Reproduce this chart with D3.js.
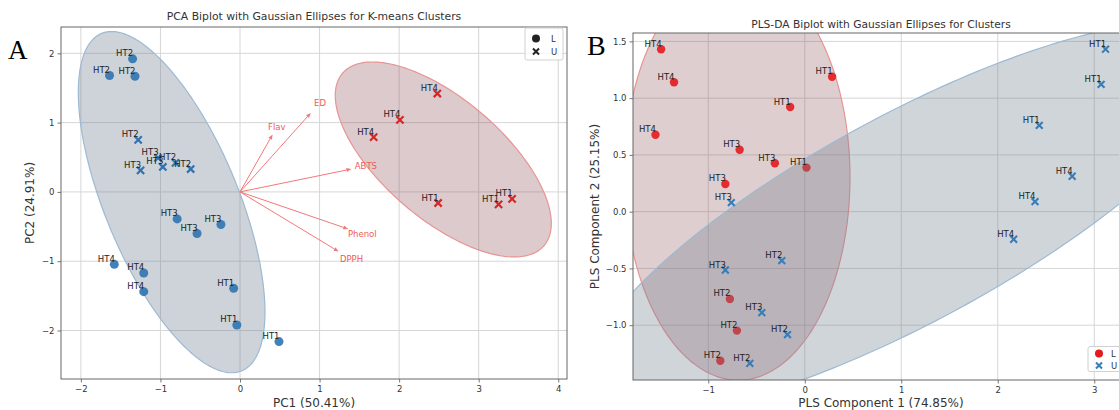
<!DOCTYPE html>
<html><head><meta charset="utf-8">
<script src="https://cdn.jsdelivr.net/npm/d3@7"></script>
<style>
body{margin:0;background:#fff;}
svg{display:block;font-family:"DejaVu Sans",sans-serif;}
</style></head>
<body><svg id="chart" width="1119" height="410"></svg>
<script>
// ---------- Panel A : PCA ----------
const pcaTitle = "PCA Biplot with Gaussian Ellipses for K-means Clusters";
const pcaXLabel = "PC1 (50.41%)";
const pcaYLabel = "PC2 (24.91%)";
const pcaXTicks = [-2, -1, 0, 1, 2, 3, 4];
const pcaYTicks = [-2, -1, 0, 1, 2];

const pcaLNames = ["HT2","HT2","HT2","HT3","HT3","HT3","HT4","HT4","HT4","HT1","HT1","HT1"];
const pcaLX = [-1.35,-1.64,-1.32,-0.79,-0.54,-0.24,-1.58,-1.21,-1.21,-0.08,-0.04,0.49];
const pcaLY = [1.92,1.68,1.67,-0.39,-0.60,-0.47,-1.045,-1.17,-1.44,-1.39,-1.92,-2.16];
const pcaLCluster = [0,0,0,0,0,0,0,0,0,0,0,0];

const pcaUNames = ["HT2","HT3","HT3","HT3","HT2","HT2","HT4","HT4","HT4","HT1","HT1","HT1"];
const pcaUX = [-1.28,-1.25,-1.03,-0.97,-0.81,-0.62,2.48,2.01,1.68,2.49,3.25,3.42];
const pcaUY = [0.75,0.31,0.49,0.36,0.42,0.33,1.42,1.04,0.79,-0.16,-0.18,-0.10];
const pcaUCluster = [0,0,0,0,0,0,1,1,1,1,1,1];

const loadNames = ["Flav","ED","ABTS","Phenol","DPPH"];
const loadX = [0.41,0.89,1.40,1.36,1.24];
const loadY = [0.83,1.14,0.33,-0.535,-0.86];

// ---------- Panel B : PLS-DA ----------
const plsTitle = "PLS-DA Biplot with Gaussian Ellipses for Clusters";
const plsXLabel = "PLS Component 1 (74.85%)";
const plsYLabel = "PLS Component 2 (25.15%)";
const plsXTicks = [-1, 0, 1, 2, 3];
const plsYTicks = [-1.0, -0.5, 0.0, 0.5, 1.0, 1.5];

const plsLNames = ["HT4","HT4","HT4","HT1","HT1","HT1","HT3","HT3","HT3","HT2","HT2","HT2"];
const plsLX = [-1.489,-1.355,-1.547,0.283,-0.151,0.018,-0.675,-0.310,-0.823,-0.776,-0.703,-0.875];
const plsLY = [1.431,1.140,0.678,1.189,0.922,0.388,0.546,0.426,0.244,-0.769,-1.048,-1.313];

const plsUNames = ["HT3","HT3","HT2","HT3","HT2","HT2","HT1","HT1","HT1","HT4","HT4","HT4"];
const plsUX = [-0.761,-0.823,-0.238,-0.445,-0.179,-0.569,3.117,3.071,2.430,2.771,2.386,2.165];
const plsUY = [0.079,-0.514,-0.432,-0.890,-1.084,-1.336,1.431,1.122,0.761,0.312,0.088,-0.243];

const legendNames = ["L","U"];
const nStd = 2;

// ---------- helpers ----------
const svg = d3.select("#chart");
const fmtMinus = s => String(s).replace("-", "\u2212");

function ellipsePts(xs, ys) {
  const n = xs.length;
  const mx = d3.mean(xs), my = d3.mean(ys);
  let sxx = 0, syy = 0, sxy = 0;
  for (let i = 0; i < n; i++) {
    sxx += (xs[i]-mx)*(xs[i]-mx);
    syy += (ys[i]-my)*(ys[i]-my);
    sxy += (xs[i]-mx)*(ys[i]-my);
  }
  const k = nStd*nStd/(n-1);
  sxx *= k; syy *= k; sxy *= k;
  const l11 = Math.sqrt(sxx), l21 = sxy/l11, l22 = Math.sqrt(syy - l21*l21);
  const pts = [];
  for (let i = 0; i < 240; i++) {
    const t = i/240*2*Math.PI;
    pts.push([mx + l11*Math.cos(t), my + l21*Math.cos(t) + l22*Math.sin(t)]);
  }
  return pts;
}

function makeGrid(g, x, y, xt, yt, box) {
  g.append("g").selectAll("line").data(xt).join("line")
    .attr("x1", d=>x(d)).attr("x2", d=>x(d)).attr("y1", box.t).attr("y2", box.b)
    .attr("stroke", "#d6d6d6").attr("stroke-width", 1);
  g.append("g").selectAll("line").data(yt).join("line")
    .attr("y1", d=>y(d)).attr("y2", d=>y(d)).attr("x1", box.l).attr("x2", box.r)
    .attr("stroke", "#d6d6d6").attr("stroke-width", 1);
}

function drawFrame(g, x, y, xt, yt, yfmt, box) {
  const xa = d3.axisBottom(x).tickValues(xt).tickSize(3.5).tickPadding(3).tickFormat(d=>fmtMinus(d));
  const ya = d3.axisLeft(y).tickValues(yt).tickSize(3.5).tickPadding(3).tickFormat(d=>fmtMinus(yfmt(d)));
  const gx = g.append("g").attr("transform", `translate(0,${box.b})`).call(xa);
  const gy = g.append("g").attr("transform", `translate(${box.l},0)`).call(ya);
  [gx, gy].forEach(a => {
    a.select(".domain").remove();
    a.selectAll("line").attr("stroke", "#777");
    a.selectAll("text").attr("fill", "#333").attr("font-size", 8.5).attr("font-family", "DejaVu Sans");
  });
  g.append("rect").attr("x", box.l).attr("y", box.t).attr("width", box.r-box.l).attr("height", box.b-box.t)
    .attr("fill", "none").attr("stroke", "#666").attr("stroke-width", 1);
}

function crossPath(cx, cy, s) {
  return `M${cx-s},${cy-s}L${cx+s},${cy+s}M${cx-s},${cy+s}L${cx+s},${cy-s}`;
}

// ---------- Panel A ----------
{
  const box = {l: 61, r: 567, t: 27, b: 379};
  const x = d3.scaleLinear().domain([-2.25, 4.11]).range([box.l, box.r]);
  const y = d3.scaleLinear().domain([-2.70, 2.38]).range([box.b, box.t]);
  const g = svg.append("g");
  g.append("clipPath").attr("id", "clipA").append("rect")
    .attr("x", box.l).attr("y", box.t).attr("width", box.r-box.l).attr("height", box.b-box.t);
  makeGrid(g, x, y, pcaXTicks, pcaYTicks, box);

  const pg = g.append("g").attr("clip-path", "url(#clipA)");
  const line = d3.line().x(d=>x(d[0])).y(d=>y(d[1])).curve(d3.curveLinearClosed);
  const ellStyle = [
    {fill: "rgb(112,128,144)", op: 0.35, stroke: "#9db9d3"},
    {fill: "rgb(140,80,85)", op: 0.30, stroke: "#e89494"}
  ];
  [0, 1].forEach(c => {
    const xs = [], ys = [];
    pcaLX.forEach((v,i)=>{ if (pcaLCluster[i]===c){xs.push(v); ys.push(pcaLY[i]);} });
    pcaUX.forEach((v,i)=>{ if (pcaUCluster[i]===c){xs.push(v); ys.push(pcaUY[i]);} });
    pg.append("path").attr("d", line(ellipsePts(xs, ys)))
      .attr("fill", ellStyle[c].fill).attr("fill-opacity", ellStyle[c].op)
      .attr("stroke", ellStyle[c].stroke).attr("stroke-width", 1.2);
  });
  const clusterCol = ["#2f74b0", "#d62728"];
  pg.selectAll("circle.pt").data(pcaLX).join("circle")
    .attr("cx", (d)=>x(d)).attr("cy", (d,i)=>y(pcaLY[i])).attr("r", 4.5)
    .attr("fill", (d,i)=>clusterCol[pcaLCluster[i]]).attr("fill-opacity", 0.9);
  pg.selectAll("path.cr").data(pcaUX).join("path")
    .attr("d", (d,i)=>crossPath(x(d), y(pcaUY[i]), 3.6))
    .attr("stroke", (d,i)=>clusterCol[pcaUCluster[i]]).attr("stroke-width", 2.2).attr("fill", "none");

  // loadings arrows
  const ox = x(0), oy = y(0);
  loadX.forEach((lx, i) => {
    const tx = x(lx), ty = y(loadY[i]);
    const ang = Math.atan2(ty-oy, tx-ox);
    const hl = 5, hw = 2;
    const bx = tx - hl*Math.cos(ang), by = ty - hl*Math.sin(ang);
    pg.append("line").attr("x1", ox).attr("y1", oy).attr("x2", bx).attr("y2", by)
      .attr("stroke", "#f27878").attr("stroke-width", 1);
    pg.append("path")
      .attr("d", `M${tx},${ty}L${bx - hw*Math.sin(ang)},${by + hw*Math.cos(ang)}L${bx + hw*Math.sin(ang)},${by - hw*Math.cos(ang)}Z`)
      .attr("fill", "#f27878");
    pg.append("text").attr("x", x(lx*1.13)).attr("y", y(loadY[i]*1.13))
      .attr("text-anchor", "middle").attr("dominant-baseline", "central")
      .attr("font-size", 8.5).attr("fill", "#f05a5a").text(loadNames[i]);
  });

  // labels
  const labs = pcaLX.map((v,i)=>[v, pcaLY[i], pcaLNames[i]]).concat(pcaUX.map((v,i)=>[v, pcaUY[i], pcaUNames[i]]));
  pg.selectAll("text.lab").data(labs).join("text")
    .attr("x", d=>x(d[0])+0.5).attr("y", d=>y(d[1])-2.5)
    .attr("text-anchor", "end").attr("font-size", 8.5).attr("fill", "#222").text(d=>d[2]);

  drawFrame(g, x, y, pcaXTicks, pcaYTicks, d=>d, box);

  g.append("text").attr("x", (box.l+box.r)/2).attr("y", 20).attr("text-anchor", "middle")
    .attr("font-size", 10.8).attr("fill", "#333").text(pcaTitle);
  g.append("text").attr("x", (box.l+box.r)/2).attr("y", 407).attr("text-anchor", "middle")
    .attr("font-size", 12).attr("fill", "#333").text(pcaXLabel);
  g.append("text").attr("transform", `translate(34,${(box.t+box.b)/2}) rotate(-90)`).attr("text-anchor", "middle")
    .attr("font-size", 12).attr("fill", "#333").text(pcaYLabel);

  // legend
  const lg = g.append("g");
  lg.append("rect").attr("x", 525).attr("y", 28).attr("width", 38).attr("height", 32).attr("rx", 2)
    .attr("fill", "#fff").attr("fill-opacity", 0.8).attr("stroke", "#d0d0d0");
  lg.append("circle").attr("cx", 536).attr("cy", 38.5).attr("r", 4).attr("fill", "#222");
  lg.append("path").attr("d", crossPath(536, 51.5, 3)).attr("stroke", "#222").attr("stroke-width", 2);
  legendNames.forEach((n, i) => lg.append("text").attr("x", 551).attr("y", 41.5 + i*13)
    .attr("font-size", 8.5).attr("fill", "#333").text(n));

  svg.append("text").attr("x", 8).attr("y", 59).attr("font-family", "'Liberation Serif','Times New Roman',serif")
    .attr("font-size", 27).attr("fill", "#000").text("A");
}

// ---------- Panel B ----------
{
  const box = {l: 633, r: 1129, t: 33, b: 380};
  const x = d3.scaleLinear().domain([-1.78, 3.36]).range([box.l, box.r]);
  const y = d3.scaleLinear().domain([-1.483, 1.574]).range([box.b, box.t]);
  const g = svg.append("g");
  g.append("clipPath").attr("id", "clipB").append("rect")
    .attr("x", box.l).attr("y", box.t).attr("width", box.r-box.l).attr("height", box.b-box.t);
  makeGrid(g, x, y, plsXTicks, plsYTicks, box);
  const pg = g.append("g").attr("clip-path", "url(#clipB)");
  const line = d3.line().x(d=>x(d[0])).y(d=>y(d[1])).curve(d3.curveLinearClosed);

  // L cluster: ellipse + points
  pg.append("path").attr("d", line(ellipsePts(plsLX, plsLY)))
    .attr("fill", "rgb(140,80,85)").attr("fill-opacity", 0.28)
    .attr("stroke", "#e89494").attr("stroke-width", 1.2);
  pg.selectAll("circle.pt").data(plsLX).join("circle")
    .attr("cx", d=>x(d)).attr("cy", (d,i)=>y(plsLY[i])).attr("r", 4.2)
    .attr("fill", "#e41a1c").attr("fill-opacity", 0.9);
  // U cluster
  pg.append("path").attr("d", line(ellipsePts(plsUX, plsUY)))
    .attr("fill", "rgb(112,128,144)").attr("fill-opacity", 0.33)
    .attr("stroke", "#9db9d3").attr("stroke-width", 1.2);
  pg.selectAll("path.cr").data(plsUX).join("path")
    .attr("d", (d,i)=>crossPath(x(d), y(plsUY[i]), 3.4))
    .attr("stroke", "#377eb8").attr("stroke-width", 2.1).attr("fill", "none");

  const labs = plsLX.map((v,i)=>[v, plsLY[i], plsLNames[i]]).concat(plsUX.map((v,i)=>[v, plsUY[i], plsUNames[i]]));
  pg.selectAll("text.lab").data(labs).join("text")
    .attr("x", d=>x(d[0])+0.5).attr("y", d=>y(d[1])-2.5)
    .attr("text-anchor", "end").attr("font-size", 8.5).attr("fill", "#222").text(d=>d[2]);

  drawFrame(g, x, y, plsXTicks, plsYTicks, d=>d.toFixed(1), box);

  g.append("text").attr("x", (box.l+box.r)/2).attr("y", 28).attr("text-anchor", "middle")
    .attr("font-size", 10.7).attr("fill", "#333").text(plsTitle);
  g.append("text").attr("x", (box.l+box.r)/2).attr("y", 407).attr("text-anchor", "middle")
    .attr("font-size", 12).attr("fill", "#333").text(plsXLabel);
  g.append("text").attr("transform", `translate(599,${(box.t+box.b)/2}) rotate(-90)`).attr("text-anchor", "middle")
    .attr("font-size", 12).attr("fill", "#333").text(plsYLabel);

  const lg = g.append("g");
  lg.append("rect").attr("x", 1088).attr("y", 346.5).attr("width", 40).attr("height", 25).attr("rx", 2)
    .attr("fill", "#fff").attr("fill-opacity", 0.8).attr("stroke", "#d0d0d0");
  lg.append("circle").attr("cx", 1099).attr("cy", 353.5).attr("r", 4).attr("fill", "#e41a1c");
  lg.append("path").attr("d", crossPath(1099, 365.5, 3)).attr("stroke", "#377eb8").attr("stroke-width", 2);
  legendNames.forEach((n, i) => lg.append("text").attr("x", 1111).attr("y", 356.5 + i*12)
    .attr("font-size", 8.5).attr("fill", "#333").text(n));

  svg.append("text").attr("x", 587).attr("y", 55).attr("font-family", "'Liberation Serif','Times New Roman',serif")
    .attr("font-size", 28).attr("fill", "#000").text("B");
}
</script></body></html>
